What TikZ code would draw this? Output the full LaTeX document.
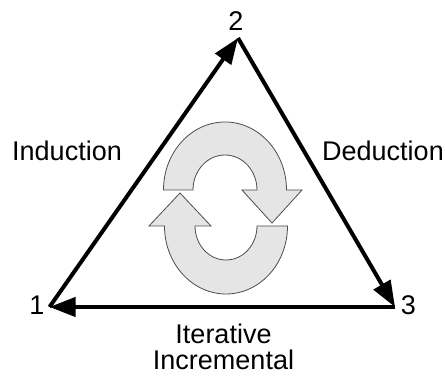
\documentclass[tikz,border=0pt]{standalone}
\usepackage{fontspec}
\setmainfont{Liberation Sans}
\usetikzlibrary{arrows.meta}
\begin{document}
\begin{tikzpicture}[x=1pt,y=1pt,
  edge/.style={line width=4pt,-{Triangle[length=26pt,width=19pt]}},
  lbl/.style={anchor=base,inner sep=0pt,font=\fontsize{27}{32}\selectfont},
  cyc/.style={fill=black!10,draw=black!70,line width=0.8pt,line join=miter}]
\useasboundingbox (0,0) rectangle (445,379);
\coordinate (v1) at (49.5,72);
\coordinate (v2) at (238,341);
\coordinate (v3) at (395,72);
\draw[edge] (v1) -- (v2);
\draw[edge] (v2) -- (v3);
\draw[edge] (v3) -- (v1);
\node[lbl] (n1) at (37,64) {1};
\node[lbl] (n2) at (236,348) {2};
\node[lbl] (n3) at (408.5,64) {3};
\node[lbl] (ind) at (67,218) {Induction};
\node[lbl] (ded) at (383,218) {Deduction};
\node[lbl] (it) at (223.5,35) {Iterative};
\node[lbl] (inc) at (223.5,9) {Incremental};
% top circular arrow
\draw[cyc] (163.5,189) arc[start angle=180,end angle=0,x radius=61.5,y radius=68]
  -- (302,189) -- (272,156) -- (242,189) -- (257,189)
  arc[start angle=0,end angle=180,x radius=32,y radius=35] -- cycle;
% bottom circular arrow
\draw[cyc] (287.5,153) arc[start angle=0,end angle=-180,x radius=61.5,y radius=68]
  -- (149,153) -- (180,186) -- (211,153) -- (195,153)
  arc[start angle=180,end angle=360,x radius=31,y radius=34] -- cycle;
\end{tikzpicture}
\end{document}
